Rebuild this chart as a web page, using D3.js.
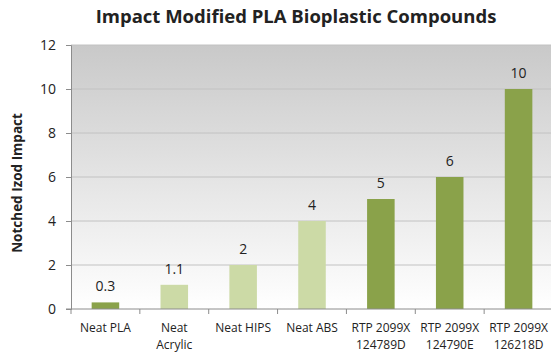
<!DOCTYPE html>
<html>
<head>
<meta charset="utf-8">
<script src="https://cdn.jsdelivr.net/npm/d3@7"></script>
<style>
  body { margin: 0; background: #fff; }
  text { font-family: "Open Sans", "Noto Sans", sans-serif; fill: #222; }
</style>
</head>
<body>
<div id="chart"></div>
<script>
const categories = [
  ["Neat PLA"],
  ["Neat", "Acrylic"],
  ["Neat HIPS"],
  ["Neat ABS"],
  ["RTP 2099X", "124789D"],
  ["RTP 2099X", "124790E"],
  ["RTP 2099X", "126218D"]
];
const values = [0.3, 1.1, 2, 4, 5, 6, 10];
const valueLabels = ["0.3", "1.1", "2", "4", "5", "6", "10"];
const isNeat = [false, true, true, true, false, false, false];
const yTicks = [0, 2, 4, 6, 8, 10, 12];

const W = 551, H = 353;
const margin = { top: 45, right: -2, bottom: 44, left: 71 },
  width = W - margin.left - margin.right,
  height = H - margin.top - margin.bottom;

const svg = d3.select("#chart").append("svg")
  .attr("width", W).attr("height", H);

const defs = svg.append("defs");
const grad = defs.append("linearGradient")
  .attr("id", "bg").attr("x1", 0).attr("y1", 0).attr("x2", 0).attr("y2", 1);
grad.append("stop").attr("offset", "0%").attr("stop-color", "#c9c9c9");
grad.append("stop").attr("offset", "100%").attr("stop-color", "#ffffff");

svg.append("text")
  .attr("x", 296).attr("y", 23)
  .attr("text-anchor", "middle")
  .attr("font-size", 18.5).attr("font-weight", "bold")
  .text("Impact Modified PLA Bioplastic Compounds");

const g = svg.append("g")
  .attr("transform", "translate(" + margin.left + "," + margin.top + ")");

const x = d3.scaleBand().domain(d3.range(categories.length)).range([0, width]).padding(0);
const y = d3.scaleLinear().domain([0, 12]).range([height, 0]);

g.append("rect").attr("width", width).attr("height", height).attr("fill", "url(#bg)");

g.append("g").selectAll("line").data(yTicks.slice(1)).enter().append("line")
  .attr("x1", 0).attr("x2", width)
  .attr("y1", d => y(d)).attr("y2", d => y(d))
  .attr("stroke", "#c2c2c2").attr("stroke-width", 1);

const bw = x.bandwidth() * 0.4;
g.append("g").selectAll("rect").data(values).enter().append("rect")
  .attr("x", (d, i) => x(i) + (x.bandwidth() - bw) / 2)
  .attr("width", bw)
  .attr("y", d => y(d))
  .attr("height", d => height - y(d))
  .attr("fill", (d, i) => isNeat[i] ? "#ccdaa6" : "#8aa24a");

g.append("g").selectAll("text").data(values).enter().append("text")
  .attr("x", (d, i) => x(i) + x.bandwidth() / 2)
  .attr("y", d => y(d) - 11)
  .attr("text-anchor", "middle")
  .attr("font-size", 14)
  .text((d, i) => valueLabels[i]);

// y axis
const yAxis = g.append("g")
  .call(d3.axisLeft(y).tickValues(yTicks).tickSize(5).tickPadding(10));
yAxis.select(".domain").attr("stroke", "#8c8c8c");
yAxis.selectAll(".tick line").attr("stroke", "#8c8c8c");
yAxis.selectAll(".tick text").attr("font-size", 14).attr("fill", "#222")
  .attr("font-family", "\"Open Sans\", sans-serif");

// x axis
const xAxis = g.append("g").attr("transform", "translate(0," + height + ")");
xAxis.append("line").attr("x1", -5).attr("x2", width).attr("stroke", "#8c8c8c");
xAxis.selectAll(".sep").data(d3.range(categories.length + 1)).enter().append("line")
  .attr("x1", i => i * x.bandwidth()).attr("x2", i => i * x.bandwidth())
  .attr("y1", 0).attr("y2", 5).attr("stroke", "#8c8c8c");

const lbl = xAxis.selectAll(".lbl").data(categories).enter().append("text")
  .attr("text-anchor", "middle")
  .attr("font-size", 12)
  .attr("transform", (d, i) => "translate(" + (x(i) + x.bandwidth() / 2) + ",23)");
lbl.selectAll("tspan").data(d => d).enter().append("tspan")
  .attr("x", 0).attr("dy", (d, j) => j === 0 ? 0 : 16.5)
  .text(d => d);

svg.append("text")
  .attr("transform", "translate(22," + (margin.top + height / 2 + 6) + ") rotate(-90)")
  .attr("text-anchor", "middle")
  .attr("font-size", 13.5).attr("font-weight", "bold")
  .text("Notched Izod Impact");
</script>
</body>
</html>
